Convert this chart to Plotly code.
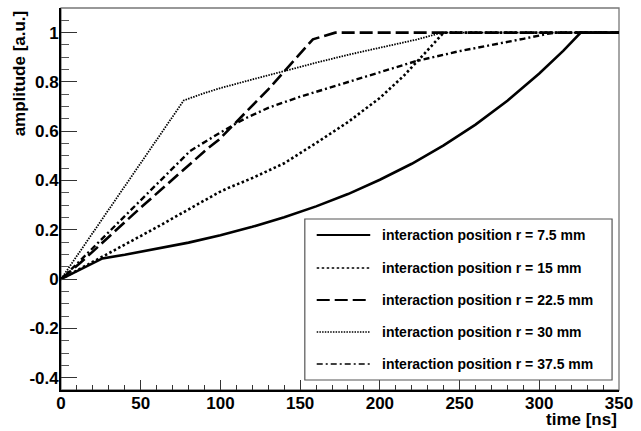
import plotly.graph_objects as go

# Signal amplitude vs. time for several interaction radii
t_r75 = [0, 26, 40, 60, 80, 100, 120, 140, 160, 180, 200, 220, 240, 260, 280, 300, 315, 326, 350]
a_r75 = [0, 0.084, 0.099, 0.122, 0.148, 0.178, 0.212, 0.251, 0.295, 0.345, 0.403, 0.468, 0.543, 0.627, 0.724, 0.834, 0.926, 1.0, 1.0]

t_r15 = [0, 26, 60, 99, 105, 120, 140, 160, 180, 200, 215, 228, 240, 350]
a_r15 = [0, 0.09, 0.21, 0.352, 0.37, 0.41, 0.47, 0.552, 0.637, 0.735, 0.825, 0.915, 1.0, 1.0]

t_r225 = [0, 12, 50, 92, 99, 130, 158, 172, 350]
a_r225 = [0, 0.065, 0.29, 0.53, 0.565, 0.77, 0.973, 1.0, 1.0]

t_r30 = [0, 77, 90, 100, 120, 140, 160, 180, 200, 223, 239, 350]
a_r30 = [0, 0.725, 0.755, 0.775, 0.81, 0.845, 0.878, 0.91, 0.94, 0.972, 1.0, 1.0]

t_r375 = [0, 10, 81, 100, 115, 130, 150, 170, 192, 223, 250, 273, 290, 305, 310, 350]
a_r375 = [0, 0.062, 0.52, 0.595, 0.65, 0.695, 0.74, 0.78, 0.825, 0.885, 0.925, 0.952, 0.975, 0.995, 1.0, 1.0]

legend_labels = [
    "interaction position r = 7.5 mm",
    "interaction position r = 15 mm",
    "interaction position r = 22.5 mm",
    "interaction position r = 30 mm",
    "interaction position r = 37.5 mm",
]

x_tick_vals = [0, 50, 100, 150, 200, 250, 300, 350]
x_tick_text = ["0", "50", "100", "150", "200", "250", "300", "350"]
y_tick_vals = [-0.4, -0.2, 0, 0.2, 0.4, 0.6, 0.8, 1.0]
y_tick_text = ["-0.4", "-0.2", "0", "0.2", "0.4", "0.6", "0.8", "1"]

# line styles: (color, width, dash)
styles = [
    ("black", 2.6, "solid"),
    ("black", 2.6, "2.5px,2.5px"),
    ("black", 2.6, "13px,5px"),
    ("black", 1.8, "1.5px,1.2px"),
    ("black", 2.4, "6px,3px,2px,3px"),
]
series = [(t_r75, a_r75), (t_r15, a_r15), (t_r225, a_r225), (t_r30, a_r30), (t_r375, a_r375)]

FONT = "Liberation Sans, Arial, sans-serif"

fig = go.Figure()
for (t, a), (col, w, dash), name in zip(series, styles, legend_labels):
    fig.add_trace(go.Scatter(x=t, y=a, mode="lines", name=name, showlegend=False,
                             line=dict(color=col, width=w, dash=dash)))

# plot-area geometry in pixels (used for the legend box / titles)
L, R, T, B = 61, 624, 8, 390
W, H = 641, 431

def px(xp):
    return (xp - L) / (R - L)

def py(yp):
    return (B - yp) / (B - T)

shapes = [
    # frame
    dict(type="rect", xref="paper", yref="paper", x0=0, x1=1, y0=0, y1=1,
         line=dict(color="#777777", width=1.3), layer="below"),
    # legend box
    dict(type="rect", xref="paper", yref="paper", x0=px(307), x1=px(617), y0=py(380), y1=py(219),
         line=dict(color="#555555", width=1.2), fillcolor="white", layer="above"),
]
annotations = []
row_y = [235, 268, 300, 332, 364]
for (col, w, dash), name, yp in zip(styles, legend_labels, row_y):
    lw = 2.2 if dash in ("solid", "13px,5px") else 1.6
    shapes.append(dict(type="line", xref="paper", yref="paper", x0=px(319), x1=px(373),
                       y0=py(yp), y1=py(yp), line=dict(color=col, width=lw, dash=dash),
                       layer="above"))
    annotations.append(dict(xref="paper", yref="paper", x=px(383), y=py(yp), text=name,
                            showarrow=False, xanchor="left", yanchor="middle",
                            font=dict(family=FONT, size=14, color="black", weight="bold")))

annotations.append(dict(xref="paper", yref="paper", x=px(19), y=1, text="amplitude [a.u.]",
                        textangle=-90, showarrow=False, xanchor="center", yanchor="top",
                        font=dict(family=FONT, size=17, color="black", weight="bold")))
annotations.append(dict(xref="paper", yref="paper", x=px(624), y=py(420), text="time [ns]",
                        showarrow=False, xanchor="right", yanchor="middle",
                        font=dict(family=FONT, size=17, color="black", weight="bold")))

tickfont = dict(family=FONT, size=17, color="black", weight="bold")
fig.update_layout(
    width=W, height=H,
    margin=dict(l=L, r=W - R, t=T, b=H - B, pad=0),
    plot_bgcolor="white", paper_bgcolor="white",
    font=dict(family=FONT, size=17, color="black"),
    shapes=shapes, annotations=annotations,
    xaxis=dict(range=[0, 350], tickvals=x_tick_vals, ticktext=x_tick_text,
               ticks="inside", ticklen=10, tickwidth=1.3, tickcolor="#333333",
               minor=dict(ticks="inside", ticklen=5, tickwidth=1, tickcolor="#333333", dtick=10, showgrid=False),
               showgrid=False, zeroline=False, showline=True, linecolor="black", linewidth=1.8,
               ticklabelstandoff=-3, tickfont=tickfont),
    yaxis=dict(range=[-0.45, 1.1], tickvals=y_tick_vals, ticktext=y_tick_text,
               ticks="inside", ticklen=16, tickwidth=1.3, tickcolor="#333333",
               minor=dict(ticks="inside", ticklen=8, tickwidth=1, tickcolor="#555555", dtick=0.05, showgrid=False),
               showgrid=False, zeroline=False, showline=True, linecolor="black", linewidth=1.8,
               ticklabelstandoff=-3, tickfont=tickfont),
)

fig.write_html("out.html")
